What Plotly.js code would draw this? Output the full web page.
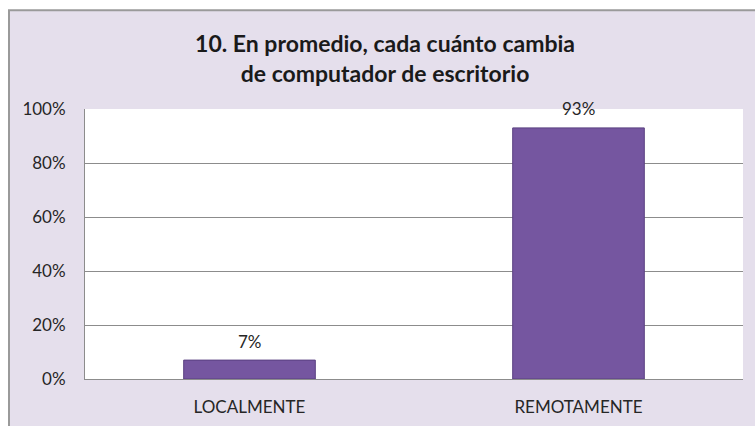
<!DOCTYPE html>
<html>
<head>
<meta charset="utf-8">
<script src="https://cdn.plot.ly/plotly-3.0.1.min.js"></script>
<style>
html,body{margin:0;padding:0;background:#ffffff;}
#chart{width:755px;height:426px;}
</style>
</head>
<body>
<div id="chart"></div>
<script>
var categories = ["LOCALMENTE", "REMOTAMENTE"];
var values = [0.07, 0.93];
var valueLabels = ["7%", "93%"];
var titleLines = ["10. En promedio, cada cuánto cambia", "de computador de escritorio"];

var fontFam = "Lato, 'Open Sans', sans-serif";

var trace = {
  type: "bar",
  x: categories,
  y: values,
  width: 0.4,
  marker: {
    color: "#7556A0",
    line: {color: "#5A4080", width: 1}
  },
  hoverinfo: "skip"
};

var annotations = categories.map(function (c, i) {
  return {
    x: c, y: values[i], xref: "x", yref: "y",
    text: valueLabels[i], showarrow: false,
    yshift: 19,
    font: {family: fontFam, size: 17, color: "#262626"}
  };
});

var layout = {
  width: 755, height: 426,
  margin: {l: 85, r: 12, t: 109, b: 47},
  paper_bgcolor: "#ffffff",
  plot_bgcolor: "rgba(0,0,0,0)",
  showlegend: false,
  title: {
    text: titleLines.join("<br>"),
    font: {family: fontFam, size: 23, color: "#1a1a1a", weight: "bold"},
    xref: "container", x: 0.51, xanchor: "center",
    yref: "container", y: 0.877, yanchor: "middle"
  },
  xaxis: {
    type: "category",
    showgrid: false,
    showline: true, linecolor: "#8c8c8c", linewidth: 1,
    ticks: "outside", ticklen: 13, tickcolor: "rgba(0,0,0,0)",
    tickfont: {family: fontFam, size: 17, color: "#262626"},
    fixedrange: true
  },
  yaxis: {
    range: [0, 1],
    dtick: 0.2, tick0: 0,
    tickformat: ".0%",
    showgrid: true, gridcolor: "#8c8c8c", gridwidth: 1,
    showline: true, linecolor: "#8c8c8c", linewidth: 1,
    zeroline: false,
    ticks: "outside", ticklen: 15, tickcolor: "rgba(0,0,0,0)",
    tickfont: {family: fontFam, size: 17, color: "#262626"},
    fixedrange: true
  },
  shapes: [
    {type: "rect", xref: "paper", yref: "paper", layer: "below",
     x0: -0.1155, x1: 1.2, y0: -0.3, y1: 1.366,
     fillcolor: "#E5DFEC", line: {color: "#9a9a9a", width: 2}},
    {type: "rect", xref: "paper", yref: "paper", layer: "below",
     x0: 0, x1: 1, y0: 0, y1: 1,
     fillcolor: "#ffffff", line: {width: 0}}
  ],
  annotations: annotations
};

Plotly.newPlot("chart", [trace], layout, {displayModeBar: false, staticPlot: true});
</script>
</body>
</html>
